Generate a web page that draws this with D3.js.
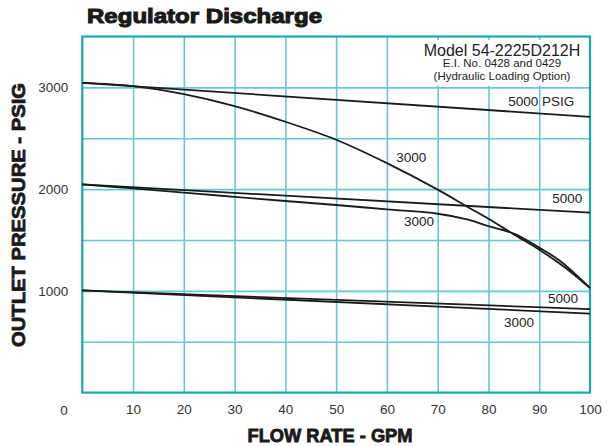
<!DOCTYPE html>
<html><head><meta charset="utf-8">
<script src="https://cdn.jsdelivr.net/npm/d3@7"></script>
<style>
html,body{margin:0;padding:0;background:#fff;}
svg{display:block;}
text{font-family:"Liberation Sans",Arial,sans-serif;}
</style></head>
<body>
<svg id="chart" width="613" height="446"></svg>
<script>
// ---- data ----
const flowTicks = [10,20,30,40,50,60,70,80,90,100];
const pressureTicks = [1000,2000,3000];
const gridX = [10,20,30,40,50,60,70,80,90];
const gridY = [500,1000,1500,2000,2500,3000];

const flowCurveA = [0,10,20,30,40,50,60,70,76,80,85,90,95,100];
const set3000_lo3000 = [3045,3013,2934,2816,2662,2485,2255,1995,1822,1708,1555,1405,1232,1028];
const flowCurveB = [0,10,20,30,40,50,60,70,76,80,85,90,94,100];
const set2000_lo3000 = [2047,2007,1965,1924,1883,1844,1801,1758,1700,1636,1562,1425,1298,1028];

const flowLine = [0,100];
const set3000_lo5000 = [3045,2710];
const set2000_lo5000 = [2047,1768];
const set1000_lo5000 = [1004,820];
const set1000_lo3000 = [1004,777];

const labelText = ["5000 PSIG","3000","3000","5000","5000","3000"];
const labelFlow = [90.4,64.8,66.3,95.5,94.7,86.0];
const labelPress = [2865,2315,1685,1912,928,692];

// ---- layout ----
const svg = d3.select("#chart");
const x = d3.scaleLinear().domain([0,100]).range([82.3,590]);
const y = d3.scaleLinear().domain([0,3500]).range([392.6,36.5]);

const gridColor = "#66c8d3";
const borderColor = "#17a8b7";

// grid
svg.append("g").attr("transform",`translate(0,${y(0)})`)
  .call(d3.axisBottom(x).tickValues(gridX).tickSize(-(y(0)-y(3500))).tickFormat(""))
  .call(g=>g.select(".domain").remove())
  .call(g=>g.selectAll("line").attr("stroke",gridColor).attr("stroke-width",1.6));
svg.append("g").attr("transform",`translate(${x(0)},0)`)
  .call(d3.axisLeft(y).tickValues(gridY).tickSize(-(x(100)-x(0))).tickFormat(""))
  .call(g=>g.select(".domain").remove())
  .call(g=>g.selectAll("line").attr("stroke",gridColor).attr("stroke-width",1.6));

// white note box
svg.append("rect").attr("x",x(60)+2).attr("y",y(3500)+3.5)
  .attr("width",x(100)-x(60)-3).attr("height",y(3000)-y(3500)-5)
  .attr("fill","#fff");

// border
svg.append("rect").attr("x",x(0)).attr("y",y(3500)).attr("width",x(100)-x(0)).attr("height",y(0)-y(3500))
  .attr("fill","none").attr("stroke",borderColor).attr("stroke-width",2.2);

// curves
const line = d3.line().x(d=>x(d[0])).y(d=>y(d[1])).curve(d3.curveCatmullRom.alpha(0.5));
const series = [
  [flowCurveA,set3000_lo3000],[flowCurveB,set2000_lo3000],
  [flowLine,set3000_lo5000],[flowLine,set2000_lo5000],
  [flowLine,set1000_lo5000],[flowLine,set1000_lo3000]
];
series.forEach(([xs,ys])=>{
  svg.append("path").datum(xs.map((v,i)=>[v,ys[i]]))
    .attr("d",line).attr("fill","none").attr("stroke","#1b1b1b").attr("stroke-width",1.8);
});

// series labels
labelText.forEach((t,i)=>{
  svg.append("text").attr("x",x(labelFlow[i])).attr("y",y(labelPress[i]))
    .attr("text-anchor","middle").attr("dominant-baseline","central")
    .attr("font-size",13.5).attr("fill","#222").text(t);
});

// axes labels
svg.append("g").attr("transform",`translate(0,${y(0)})`)
  .call(d3.axisBottom(x).tickValues(flowTicks).tickSize(0).tickPadding(12).tickFormat(d3.format("d")))
  .call(g=>g.select(".domain").remove())
  .call(g=>g.selectAll("text").attr("font-size",13.5).attr("fill","#333").attr("font-family","Liberation Sans, Arial, sans-serif"));
svg.append("g").attr("transform",`translate(${x(0)},0)`)
  .call(d3.axisLeft(y).tickValues(pressureTicks).tickSize(0).tickPadding(14).tickFormat(d3.format("d")))
  .call(g=>g.select(".domain").remove())
  .call(g=>g.selectAll("text").attr("font-size",13.5).attr("fill","#333").attr("font-family","Liberation Sans, Arial, sans-serif"));
svg.append("text").attr("x",64).attr("y",410).attr("text-anchor","middle").attr("dominant-baseline","central")
  .attr("font-size",13.5).attr("fill","#333").text("0");

// note text
svg.append("text").attr("x",502).attr("y",55.5).attr("text-anchor","middle").attr("font-size",16).attr("fill","#222").text("Model 54-2225D212H");
svg.append("text").attr("x",502).attr("y",67).attr("text-anchor","middle").attr("font-size",11.5).attr("fill","#222").text("E.I. No. 0428 and 0429");
svg.append("text").attr("x",502).attr("y",79.5).attr("text-anchor","middle").attr("font-size",11.5).attr("fill","#222").text("(Hydraulic Loading Option)");

// title
svg.append("text").attr("x",87).attr("y",23).attr("font-size",21).attr("font-weight","bold")
  .attr("fill","#1a1a1a").attr("stroke","#1a1a1a").attr("stroke-width",1.1)
  .attr("textLength",235).attr("lengthAdjust","spacingAndGlyphs").text("Regulator Discharge");

// axis titles
svg.append("text").attr("x",330).attr("y",442).attr("text-anchor","middle").attr("font-size",17.5).attr("font-weight","bold")
  .attr("fill","#1a1a1a").attr("stroke","#1a1a1a").attr("stroke-width",0.8)
  .attr("textLength",165).attr("lengthAdjust","spacingAndGlyphs").text("FLOW RATE - GPM");
svg.append("text").attr("transform","translate(25,215) rotate(-90)").attr("text-anchor","middle")
  .attr("font-size",18).attr("font-weight","bold")
  .attr("fill","#1a1a1a").attr("stroke","#1a1a1a").attr("stroke-width",0.8)
  .attr("textLength",264).attr("lengthAdjust","spacingAndGlyphs").text("OUTLET PRESSURE - PSIG");
</script>
</body></html>
